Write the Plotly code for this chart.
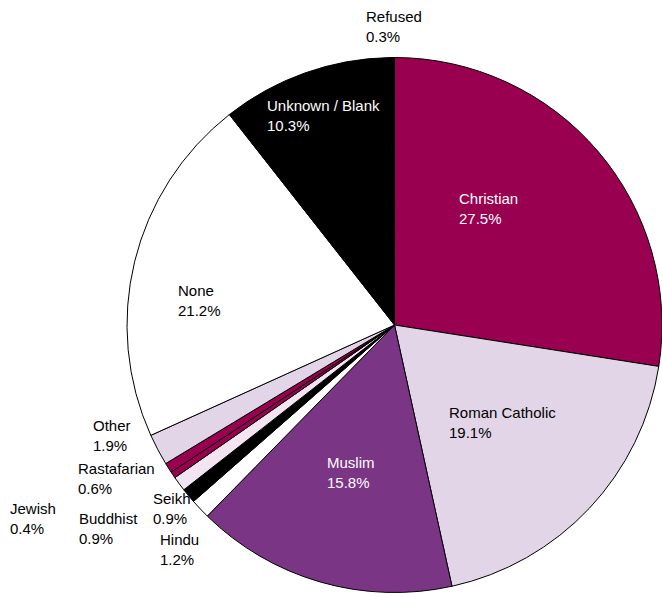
import plotly.graph_objects as go

# Religion breakdown (percent), in clockwise order from 12 o'clock
religions = ["Christian", "Roman Catholic", "Muslim", "Hindu", "Seikh", "Buddhist",
             "Jewish", "Rastafarian", "Other", "None", "Unknown / Blank", "Refused"]
shares = [27.5, 19.1, 15.8, 1.2, 0.9, 0.9, 0.4, 0.6, 1.9, 21.2, 10.3, 0.3]

CRIMSON = "#9A0050"
LAVENDER = "#E2D5E7"
PURPLE = "#7B3585"
PINK = "#F2E4F0"
slice_colors = [CRIMSON, LAVENDER, PURPLE, "#FFFFFF", "#000000", PINK,
                CRIMSON, CRIMSON, LAVENDER, "#FFFFFF", "#000000", "#000000"]

W, H = 662, 597

# label anchor (left, top) in pixels and text colour per category
label_pos = {
    "Refused": (365, 7, "black"),
    "Unknown / Blank": (266, 96, "white"),
    "Christian": (458, 189, "white"),
    "None": (177, 281, "black"),
    "Roman Catholic": (448, 403, "black"),
    "Muslim": (326, 453, "white"),
    "Other": (92, 416, "black"),
    "Rastafarian": (77, 459, "black"),
    "Jewish": (9, 499, "black"),
    "Buddhist": (78, 509, "black"),
    "Seikh": (152, 489, "black"),
    "Hindu": (159, 530, "black"),
}

fig = go.Figure(go.Pie(
    labels=religions,
    values=shares,
    sort=False,
    direction="clockwise",
    rotation=0,
    textinfo="none",
    hoverinfo="label+percent",
    marker=dict(colors=slice_colors, line=dict(color="black", width=1)),
    domain=dict(x=[127 / W, 1.0], y=[(H - 593) / H, (H - 57) / H]),
    showlegend=False,
))

annotations = []
for name, val in zip(religions, shares):
    px, py, col = label_pos[name]
    annotations.append(dict(
        x=px / W, y=1 - py / H, xref="paper", yref="paper",
        xanchor="left", yanchor="top", align="left", showarrow=False,
        borderpad=0,
        text=f"{name}<br>{val:.1f}%",
        font=dict(family="Liberation Sans, Arial, sans-serif", size=15, color=col),
    ))

fig.update_layout(
    width=W, height=H,
    margin=dict(l=0, r=0, t=0, b=0),
    paper_bgcolor="white", plot_bgcolor="white",
    annotations=annotations,
)

fig.write_html("out.html")
